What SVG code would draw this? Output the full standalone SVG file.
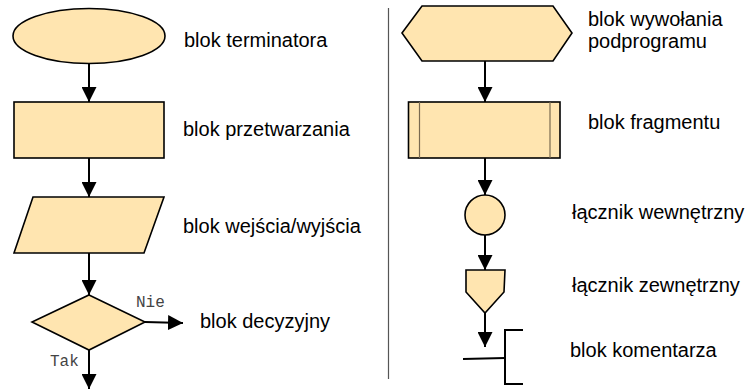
<svg xmlns="http://www.w3.org/2000/svg" width="756" height="390" viewBox="0 0 756 390">
<style>
.shape{fill:#FFE5B0;stroke:#000;stroke-width:1.6}
.lbl{font-family:"Liberation Sans",Arial,sans-serif;font-size:20px;fill:#000}
.mono{font-family:"Liberation Mono","Courier New",monospace;font-size:16px;fill:#444}
.conn{stroke:#000;stroke-width:2;fill:none}
.inner{stroke:#7a6a50;stroke-width:1.2}
</style>
<defs>
<marker id="arr" markerUnits="userSpaceOnUse" markerWidth="15" markerHeight="15" refX="15" refY="7.5" orient="auto">
<path d="M0,0 L15,7.5 L0,15 z" fill="#000"/>
</marker>
</defs>
<rect width="756" height="390" fill="#fff"/>
<line x1="388.5" y1="8" x2="388.5" y2="379" stroke="#555" stroke-width="1.2"/>

<g id="terminator">
<ellipse class="shape" cx="89" cy="36" rx="76" ry="27.5"/>
<text class="lbl" x="184" y="47">blok terminatora</text>
</g>
<g id="process">
<rect class="shape" x="14" y="102" width="150" height="56"/>
<text class="lbl" x="183" y="136">blok przetwarzania</text>
</g>
<g id="io">
<polygon class="shape" points="33,197 164,197 144,253 14,253"/>
<text class="lbl" x="183" y="233">blok wejścia/wyjścia</text>
</g>
<g id="decision">
<polygon class="shape" points="89,295 145,322 89,350 32,322"/>
<text class="lbl" x="200" y="328">blok decyzyjny</text>
</g>
<g id="subroutine">
<polygon class="shape" points="402,33 422,6 553,6 572,33 553,61 422,61"/>
<text class="lbl" x="588" y="26">blok wywołania</text>
<text class="lbl" x="588" y="48">podprogramu</text>
</g>
<g id="fragment">
<rect class="shape" x="408.5" y="102" width="151.5" height="56"/>
<line class="inner" x1="419.5" y1="102" x2="419.5" y2="158"/>
<line class="inner" x1="550" y1="102" x2="550" y2="158"/>
<text class="lbl" x="588" y="129">blok fragmentu</text>
</g>
<g id="internal-connector">
<circle class="shape" cx="485" cy="215" r="20"/>
<text class="lbl" x="572" y="219">łącznik wewnętrzny</text>
</g>
<g id="external-connector">
<polygon class="shape" points="466,270 505,270 504,292 485,313 466,292"/>
<text class="lbl" x="572" y="292">łącznik zewnętrzny</text>
</g>
<g id="comment">
<path class="conn" d="M463,359 L505,358"/>
<path class="conn" d="M523,330 H505 V384 H523"/>
<text class="lbl" x="570" y="357">blok komentarza</text>
</g>

<g id="connectors">
<line class="conn" x1="89" y1="63" x2="89" y2="102" marker-end="url(#arr)"/>
<line class="conn" x1="89" y1="158" x2="89" y2="197" marker-end="url(#arr)"/>
<line class="conn" x1="89" y1="253" x2="89" y2="295" marker-end="url(#arr)"/>
<line class="conn" x1="145" y1="322" x2="183" y2="323" marker-end="url(#arr)"/>
<line class="conn" x1="89" y1="350" x2="89" y2="389" marker-end="url(#arr)"/>
<text class="mono" x="136" y="307">Nie</text>
<text class="mono" x="50" y="366">Tak</text>
<line class="conn" x1="485" y1="61" x2="485" y2="102" marker-end="url(#arr)"/>
<line class="conn" x1="485" y1="158" x2="485" y2="195" marker-end="url(#arr)"/>
<line class="conn" x1="485" y1="235" x2="485" y2="270" marker-end="url(#arr)"/>
<line class="conn" x1="485" y1="313" x2="485" y2="347" marker-end="url(#arr)"/>
</g>
</svg>
